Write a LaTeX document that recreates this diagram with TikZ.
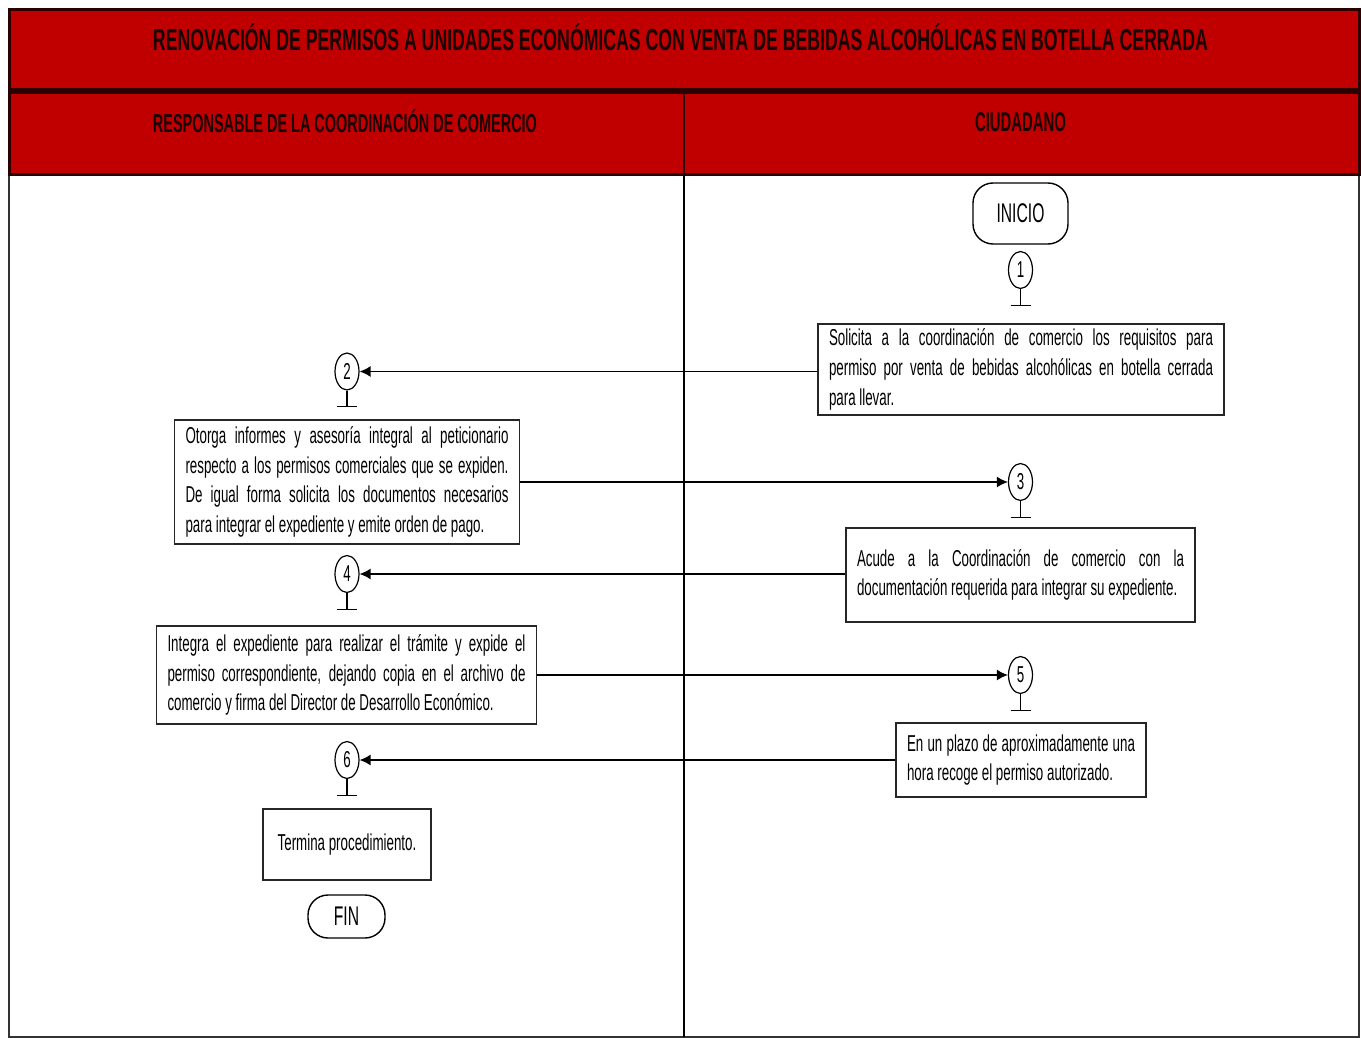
\documentclass[tikz,border=0pt]{standalone}
\usepackage{fontspec}
\setmainfont{Liberation Sans}
\newfontfamily\narrowfont[FakeStretch=0.58]{Liberation Sans}
\usetikzlibrary{shapes.geometric,arrows.meta}
\definecolor{bandred}{HTML}{C00000}
\definecolor{banddark}{HTML}{2A0000}
\definecolor{headtext}{HTML}{1A0000}
\hyphenpenalty=10000
\exhyphenpenalty=10000

\begin{document}
\begin{tikzpicture}[x=0.5pt,y=-0.5pt,
  band/.style={draw=banddark,line width=1.5pt,fill=bandred},
  headlabel/.style={inner sep=0pt,anchor=base,text=headtext},
  stepbox/.style={draw=black!85,line width=0.7pt,fill=white,inner xsep=5.5pt,inner ysep=0pt,
    align=justify,font=\narrowfont\fontsize{11.5}{14.8}\selectfont},
  marker/.style={ellipse,draw,line width=0.6pt,minimum width=12pt,minimum height=18.5pt,
    inner sep=0pt,font=\narrowfont\fontsize{11.5}{13}\selectfont},
  terminal/.style={draw,rounded corners=10pt,line width=0.7pt,inner sep=0pt,
    font=\narrowfont\fontsize{13.5}{15}\selectfont},
  flow/.style={line width=0.7pt,-{Latex[length=5.5pt,width=5.5pt]}},
  stem/.style={line width=0.6pt}
]
\useasboundingbox (0,0) rectangle (1361,1038);
\fill[white] (0,0) rectangle (1361,1038);

% swimlane frame
\draw[line width=1pt,draw=black!80] (9,175) -- (9,1037) -- (1359,1037) -- (1359,175);
\draw[line width=0.8pt] (684,93) -- (684,1037);
\draw[band] (9,10) rectangle (1359,90);
\draw[band] (9,93) rectangle (1359,175);
\draw[line width=0.8pt,draw=banddark] (684,93) -- (684,175);

% headings
\node[headlabel] (title) at (680.5,51)
  {\resizebox{527.5pt}{13.5pt}{\bfseries RENOVACIÓN DE PERMISOS A UNIDADES ECONÓMICAS CON VENTA DE BEBIDAS ALCOHÓLICAS EN BOTELLA CERRADA}};
\node[headlabel] (laneA) at (345,133)
  {\resizebox{192pt}{11.5pt}{\bfseries RESPONSABLE DE LA COORDINACIÓN DE COMERCIO}};
\node[headlabel] (laneB) at (1020.5,132)
  {\resizebox{45.5pt}{9.5pt}{\bfseries CIUDADANO}};

% terminals
\node[terminal,minimum width=47.5pt,minimum height=30.5pt] (inicio) at (1020.5,213.5) {INICIO};
\node[terminal,minimum width=38.5pt,minimum height=21.5pt] (fin) at (346.5,916.5) {FIN};

% activity boxes
\node[stepbox,text width=192pt,minimum height=45.5pt] (b1) at (1021,369.5)
  {Solicita a la coordinación de comercio los requisitos para\linebreak permiso por venta de bebidas alcohólicas en botella cerrada\linebreak para llevar.};
\node[stepbox,text width=161.5pt,minimum height=62pt] (b2) at (347,482)
  {Otorga informes y asesoría integral al peticionario\linebreak respecto a los permisos comerciales que se expiden.\linebreak De igual forma solicita los documentos necesarios\linebreak para integrar el expediente y emite orden de pago.};
\node[stepbox,text width=163.5pt,minimum height=47pt] (b3) at (1020.5,575)
  {Acude a la Coordinación de comercio con la\linebreak documentación requerida para integrar su expediente.};
\node[stepbox,text width=179pt,minimum height=49pt] (b4) at (346.5,675)
  {Integra el expediente para realizar el trámite y expide el\linebreak permiso correspondiente, dejando copia en el archivo de\linebreak comercio y firma del Director de Desarrollo Económico.};
\node[stepbox,text width=114pt,minimum height=37pt] (b5) at (1021,760)
  {En un plazo de aproximadamente una\linebreak hora recoge el permiso autorizado.};
\node[stepbox,align=center,minimum width=84pt,minimum height=35.5pt] (b6) at (347,844.5)
  {Termina procedimiento.};

% numbered step markers with their stands
\foreach \n/\x/\y in {1/1020.5/270, 2/347/371.5, 3/1020.5/482, 4/347/574, 5/1020.5/675, 6/347/760}{
  \node[marker] (m\n) at (\x,\y) {\n};
  \coordinate (s\n) at ([yshift=-8pt]m\n.south);
  \draw[stem] (m\n.south) -- (s\n);
  \draw[stem] ([xshift=-5pt]s\n) -- ([xshift=5pt]s\n);
}

% flow between lanes
\draw[flow] (b1.west |- m2) -- (m2.east);
\draw[flow] (b2.east |- m3) -- (m3.west);
\draw[flow] (b3.west |- m4) -- (m4.east);
\draw[flow] (b4.east |- m5) -- (m5.west);
\draw[flow] (b5.west |- m6) -- (m6.east);
\end{tikzpicture}
\end{document}
